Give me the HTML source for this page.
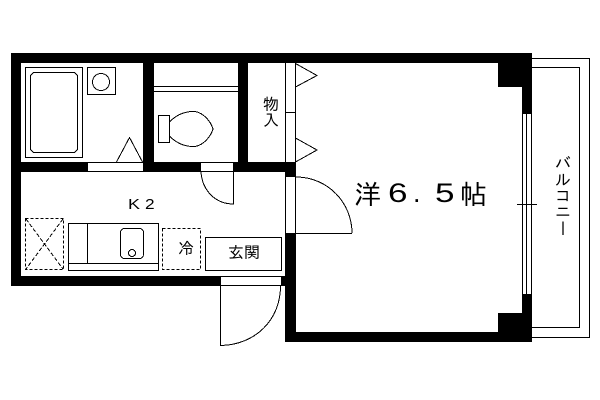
<!DOCTYPE html>
<html>
<head>
<meta charset="utf-8">
<style>
html,body{margin:0;padding:0;background:#fff;width:600px;height:400px;overflow:hidden}
svg{position:absolute;left:0;top:0;display:block}
text{font-family:"Liberation Sans",IPAGothic,"Noto Sans CJK JP",sans-serif;fill:#000}
.v{position:absolute;left:553px;top:155px;width:16px;font:16px/16px "Liberation Sans",IPAGothic,"Noto Sans CJK JP",sans-serif;writing-mode:vertical-rl;color:#000;white-space:nowrap}
</style>
</head>
<body>
<svg width="600" height="400" viewBox="0 0 600 400" xmlns="http://www.w3.org/2000/svg" shape-rendering="crispEdges">
<!-- walls -->
<g fill="#000">
<rect x="11" y="53" width="521" height="10"/>
<rect x="11" y="53" width="10" height="233"/>
<rect x="143" y="53" width="11" height="119"/>
<rect x="238" y="53" width="10" height="119"/>
<rect x="11" y="162" width="285" height="10"/>
<rect x="11" y="276" width="274" height="10"/>
<rect x="285" y="162" width="11" height="15"/>
<rect x="285" y="233" width="11" height="109"/>
<rect x="285" y="332" width="247" height="10"/>
<rect x="498" y="53" width="34" height="34"/>
<rect x="522" y="53" width="10" height="61"/>
<rect x="498" y="313" width="34" height="29"/>
<rect x="522" y="294" width="10" height="48"/>
</g>
<!-- openings -->
<g fill="#fff">
<rect x="88" y="163" width="55" height="8"/>
<rect x="201" y="163" width="32" height="8"/>
<rect x="286" y="177" width="9" height="56"/>
<rect x="220" y="277" width="61" height="8"/>
</g>
<g fill="none" stroke="#000" stroke-width="1">
<!-- bath -->
<rect x="25.5" y="67.5" width="57" height="90"/>
<path d="M33.5 72.5H74.5L77.5 75.5V149.5L74.5 152.5H33.5L30.5 149.5V75.5Z"/>
<rect x="87.5" y="67.5" width="28" height="27"/>
<circle cx="101" cy="82" r="8.5"/>
<path d="M116.5 162L129.5 137.5L142.5 162"/>
<!-- toilet -->
<path d="M154 86.5H238M154 91.5H238"/>
<rect x="158.5" y="115.5" width="11" height="27"/>
<path d="M169.5 122C178 113 188 111 195 111.500C204 113 211 122 213 129C211 136 204 145 195 146.500C188 147 178 145 169.500 136"/>
<!-- closet -->
<path d="M285.500 63V162M295.500 63V162M285 112.500H295"/>
<path d="M295.500 63.500L317 75.500L295.500 87"/>
<path d="M295.500 138L317 150L295.500 162"/>
<!-- kitchen door -->
<path d="M201 171.500H233.500V204C215 204 202 190 201 171.500"/>
<!-- room door -->
<path d="M295.500 177V233.500H352M296 177C328 177 352 203 352 233"/>
<path d="M285.500 177V233"/>
<!-- entrance door -->
<path d="M220 276.500H285M220 285.500H281M220.500 276V345.500C255 345 281 320 280.500 285"/>
<!-- washer area -->
<rect x="25.500" y="218.500" width="38" height="51" stroke-dasharray="3 2"/>
<path d="M26 219L63 269M63 219L26 269" stroke-dasharray="4 2"/>
<!-- counter -->
<rect x="68.500" y="223.500" width="90" height="47"/>
<path d="M68 263.500H158M87.500 223V263"/>
<rect x="120.500" y="228.500" width="23" height="30" rx="4"/>
<circle cx="132" cy="253" r="3.500"/>
<!-- fridge -->
<rect x="162.500" y="228.500" width="38" height="41" stroke-dasharray="3 2"/>
<!-- entrance box -->
<rect x="205.500" y="237.500" width="76" height="33"/>
<!-- window -->
<path d="M522.500 114V294M526.500 114V294M531.500 114V294M517 204.500H537"/>
<!-- balcony -->
<path d="M532 58.500H589.500V337.500H532"/>
<path d="M532 67.500H579.500V327.500H532"/>
</g>
<g shape-rendering="auto">
<text x="263" y="110" font-size="16">物</text>
<text x="263" y="126" font-size="16">入</text>
<text transform="translate(128 209) scale(1.2 1)" font-size="15">K</text>
<text transform="translate(145 209) scale(1.15 1)" font-size="15">2</text>
<text x="178" y="254" font-size="16">冷</text>
<text x="228" y="258" font-size="16">玄関</text>
<text x="354" y="204" font-size="27">洋</text>
<text transform="translate(388 202) scale(1.3 1)" font-size="27">6</text>
<text x="413" y="202" font-size="27">.</text>
<text transform="translate(435 202) scale(1.3 1)" font-size="27">5</text>
<text x="460" y="204" font-size="27">帖</text>
</g>
</svg>
<div class="v">バルコニー</div>
</body>
</html>
